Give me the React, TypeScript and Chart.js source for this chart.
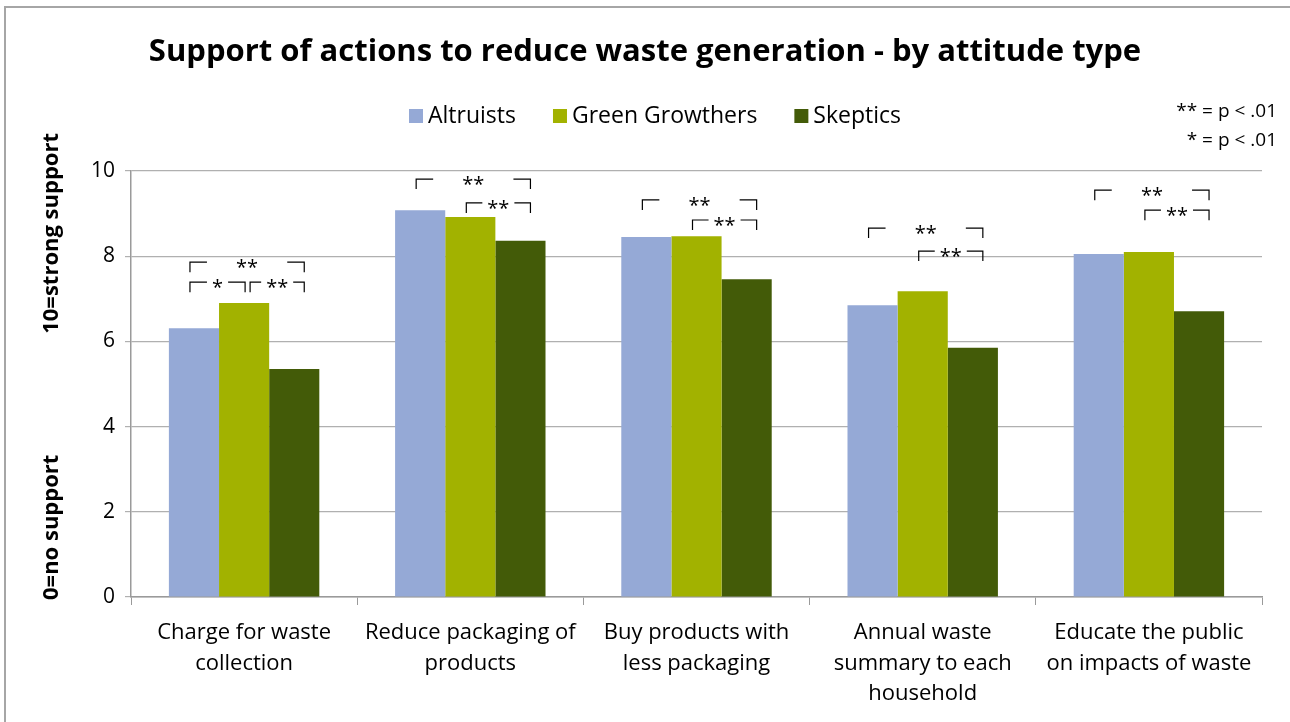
import React, { useEffect, useRef } from "react";
import { Chart, registerables } from "chart.js";

Chart.register(...registerables);

const titleText = "Support of actions to reduce waste generation - by attitude type";
const categories: string[][] = [
  ["Charge for waste", "collection"],
  ["Reduce packaging of", "products"],
  ["Buy products with", "less packaging"],
  ["Annual waste", "summary to each", "household"],
  ["Educate the public", "on impacts of waste"],
];
const seriesNames = ["Altruists", "Green Growthers", "Skeptics"];
const seriesColors = ["#95A9D6", "#A2B200", "#435B08"];
const altruists = [6.31, 9.08, 8.45, 6.85, 8.05];
const greenGrowthers = [6.9, 8.92, 8.47, 7.18, 8.1];
const skeptics = [5.35, 8.36, 7.46, 5.85, 6.71];
const yMin = 0;
const yMax = 10;
const yStep = 2;
const yTitleTop = "10=strong support";
const yTitleBottom = "0=no support";
const noteLines = ["** = p < .01", "* = p < .01"];
// significance brackets: category index, from series, to series, level (value units), label
const brackets = [
  { cat: 0, from: 0, to: 2, level: 7.86, label: "**" },
  { cat: 0, from: 0, to: 1, level: 7.39, label: "*" },
  { cat: 0, from: 1, to: 2, level: 7.39, label: "**" },
  { cat: 1, from: 0, to: 2, level: 9.81, label: "**" },
  { cat: 1, from: 1, to: 2, level: 9.25, label: "**" },
  { cat: 2, from: 0, to: 2, level: 9.32, label: "**" },
  { cat: 2, from: 1, to: 2, level: 8.85, label: "**" },
  { cat: 3, from: 0, to: 2, level: 8.66, label: "**" },
  { cat: 3, from: 1, to: 2, level: 8.12, label: "**" },
  { cat: 4, from: 0, to: 2, level: 9.55, label: "**" },
  { cat: 4, from: 1, to: 2, level: 9.08, label: "**" },
];

const FONT = "'Open Sans', 'DejaVu Sans', sans-serif";

const decorPlugin = {
  id: "decor",
  afterDraw(chart: any) {
    const ctx = chart.ctx;
    const area = chart.chartArea;
    ctx.save();
    // outer frame
    ctx.strokeStyle = "#a6a6a6";
    ctx.lineWidth = 2;
    ctx.beginPath();
    ctx.moveTo(5, 722);
    ctx.lineTo(5, 7);
    ctx.lineTo(1290, 7);
    ctx.stroke();

    // title
    ctx.fillStyle = "#000";
    ctx.font = `bold 31px ${FONT}`;
    ctx.textAlign = "center";
    ctx.textBaseline = "middle";
    ctx.fillText(titleText, 645, 52);

    // legend
    ctx.font = `23px ${FONT}`;
    ctx.textAlign = "left";
    let lx = 409;
    seriesNames.forEach((name, i) => {
      ctx.fillStyle = seriesColors[i];
      ctx.fillRect(lx, 109, 14, 14);
      ctx.fillStyle = "#000";
      ctx.fillText(name, lx + 19, 116);
      lx += 19 + ctx.measureText(name).width + 37;
    });

    // note
    ctx.font = `19px ${FONT}`;
    ctx.textAlign = "right";
    ctx.fillText(noteLines[0], 1277, 112);
    ctx.fillText(noteLines[1], 1277, 141);

    // y titles
    ctx.font = `bold 22px ${FONT}`;
    ctx.save();
    ctx.translate(52, area.bottom + 3);
    ctx.rotate(-Math.PI / 2);
    ctx.textAlign = "left";
    ctx.fillText(yTitleBottom, 0, 0);
    ctx.restore();
    ctx.save();
    ctx.translate(52, area.top - 38);
    ctx.rotate(-Math.PI / 2);
    ctx.textAlign = "right";
    ctx.fillText(yTitleTop, 0, 0);
    ctx.restore();

    // significance brackets
    const yScale = chart.scales.y;
    const segs = brackets.map((b) => {
      const m1 = chart.getDatasetMeta(b.from).data[b.cat];
      const m2 = chart.getDatasetMeta(b.to).data[b.cat];
      return { ...b, x1: m1.x - 4, x2: m2.x + 10, y: yScale.getPixelForValue(b.level) };
    });
    segs.forEach((s, i) => {
      segs.forEach((t, j) => {
        if (i !== j && s.cat === t.cat && s.level === t.level && s.to === t.from) {
          const mid = chart.getDatasetMeta(s.to).data[s.cat].x;
          s.x2 = mid + 1;
          t.x1 = mid + 6;
        }
      });
    });
    ctx.strokeStyle = "#000";
    ctx.lineWidth = 1.2;
    ctx.fillStyle = "#000";
    ctx.font = `20px ${FONT}`;
    ctx.textAlign = "center";
    ctx.textBaseline = "middle";
    segs.forEach((s) => {
      const tw = ctx.measureText(s.label).width;
      const span = s.x2 - s.x1;
      const seg = Math.max(6, Math.min(17, (span - tw) / 2 - 5));
      ctx.beginPath();
      ctx.moveTo(s.x1, s.y + 10);
      ctx.lineTo(s.x1, s.y);
      ctx.lineTo(s.x1 + seg, s.y);
      ctx.moveTo(s.x2 - seg, s.y);
      ctx.lineTo(s.x2, s.y);
      ctx.lineTo(s.x2, s.y + 10);
      ctx.stroke();
      ctx.fillText(s.label, (s.x1 + s.x2) / 2, s.y + 6);
    });
    ctx.restore();
  },
};

export default function App() {
  const ref = useRef<HTMLCanvasElement | null>(null);
  useEffect(() => {
    document.body.style.margin = "0";
    const canvas = ref.current!;
    const chart = new Chart(canvas, {
      type: "bar",
      data: {
        labels: categories,
        datasets: [altruists, greenGrowthers, skeptics].map((d, i) => ({
          label: seriesNames[i],
          data: d,
          backgroundColor: seriesColors[i],
          borderWidth: 0,
          categoryPercentage: 0.665,
          barPercentage: 1,
        })),
      },
      options: {
        responsive: false,
        animation: false,
        layout: { padding: { top: 171, right: 28, left: 0, bottom: 0 } },
        plugins: {
          legend: { display: false },
          title: { display: false },
          tooltip: { enabled: false },
        },
        scales: {
          x: {
            grid: {
              display: true,
              drawOnChartArea: false,
              drawTicks: true,
              tickLength: 8,
              offset: true,
              color: "#9a9a9a",
            },
            border: { color: "#9a9a9a", width: 1.5 },
            ticks: {
              color: "#000",
              font: { family: FONT, size: 22, lineHeight: 1.38 },
              padding: 13,
              maxRotation: 0,
              autoSkip: false,
            },
            afterFit: (s: any) => {
              s.height = 125;
            },
          },
          y: {
            min: yMin,
            max: yMax,
            ticks: {
              stepSize: yStep,
              color: "#000",
              font: { family: FONT, size: 21 },
              padding: 10,
            },
            grid: { color: "#b0b0b0", tickLength: 6, lineWidth: 1.2 },
            border: { color: "#9a9a9a", width: 1.5 },
            afterFit: (s: any) => {
              s.width = 131;
            },
          },
        },
      },
      plugins: [decorPlugin],
    });
    return () => chart.destroy();
  }, []);
  return (
    <div style={{ position: "absolute", left: 0, top: 0, width: 1290, height: 722, background: "#fff" }}>
      <canvas ref={ref} width={1290} height={722} style={{ display: "block" }} />
    </div>
  );
}
